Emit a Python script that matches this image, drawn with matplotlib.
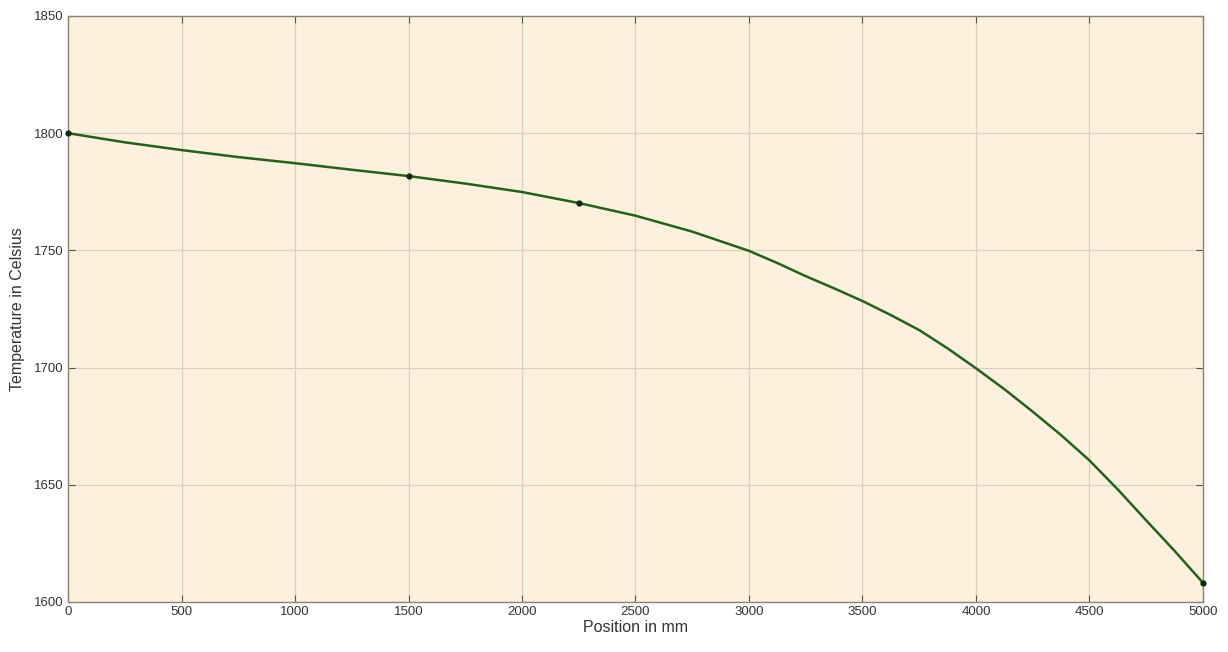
import numpy as np
import matplotlib
matplotlib.use('Agg')
from matplotlib import pyplot as plt

plt.rcParams['font.family'] = ['Liberation Sans', 'DejaVu Sans']

# curve
position = [0, 250, 500, 750, 1000, 1250, 1500, 1750, 2000, 2250, 2500,
            2750, 3000, 3125, 3250, 3375, 3500, 3625, 3750, 3875, 4000,
            4125, 4250, 4375, 4500, 4625, 4750, 4875, 5000]
temperature = [1800, 1796.1, 1792.8, 1789.8, 1787.2, 1784.4, 1781.7, 1778.5,
               1774.9, 1770.2, 1764.8, 1758.0, 1749.8, 1744.6, 1739.0, 1733.8,
               1728.4, 1722.4, 1716.0, 1708.2, 1699.7, 1690.8, 1681.2, 1671.2,
               1660.4, 1648.0, 1634.8, 1621.8, 1608.2]
# measured points
pt_position = [0, 1500, 2250, 5000]
pt_temperature = [1800, 1781.7, 1770.2, 1608.2]

fig = plt.figure(figsize=(12.28, 6.52), dpi=100)
ax = fig.add_axes([0.0554, 0.0767, 0.9242, 0.8988])
ax.set_facecolor('#fdf1dd')

ax.plot(position, temperature, color='#1f641a', lw=1.8, zorder=3)
ax.plot(pt_position, pt_temperature, 'o', color='#102a10', ms=3.5, zorder=4, clip_on=False)

ax.set_xlim(0, 5000)
ax.set_ylim(1600, 1850)
ax.set_xticks(np.arange(0, 5001, 500))
ax.set_yticks(np.arange(1600, 1851, 50))
ax.grid(True, color='#d9d0c2', lw=0.9)
ax.set_axisbelow(True)
ax.tick_params(direction='in', top=True, right=True, length=5, color='#555555',
               labelsize=9.5, labelcolor='#333333', pad=3)
for s in ax.spines.values():
    s.set_color('#8a8478')
    s.set_linewidth(1.0)

ax.set_xlabel('Position in mm', fontsize=11.5, color='#333333', labelpad=1)
ax.set_ylabel('Temperature in Celsius', fontsize=11.5, color='#333333', labelpad=7)

fig.savefig('out.png', dpi=100, facecolor='white')
